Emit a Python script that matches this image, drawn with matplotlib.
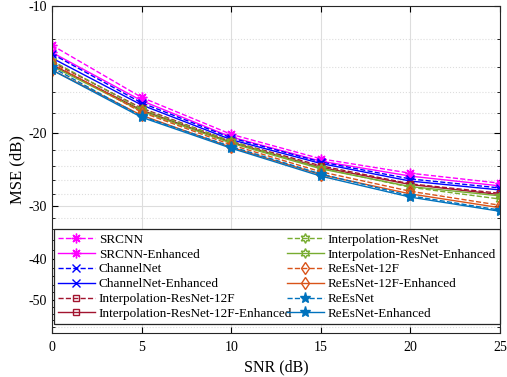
import matplotlib
matplotlib.use("Agg")
import matplotlib.pyplot as plt
import numpy as np
from matplotlib.ticker import FixedLocator, FixedFormatter

plt.rcParams['font.family'] = ['Liberation Serif', 'DejaVu Serif']
plt.rcParams['axes.unicode_minus'] = False

snr = [0, 5, 10, 15, 20, 25]

# MSE values (dB)
srcnn = [-12.4, -16.5, -20.2, -23.1, -25.0, -26.4]
srcnn_enh = [-12.9, -16.8, -20.5, -23.4, -25.4, -26.8]
channelnet = [-13.0, -17.0, -20.6, -23.5, -25.8, -27.1]
channelnet_enh = [-13.3, -17.2, -20.8, -23.7, -26.1, -27.4]
interp12f = [-13.6, -17.5, -21.0, -24.0, -26.5, -27.9]
interp12f_enh = [-13.8, -17.7, -21.1, -24.2, -26.6, -28.1]
interp = [-13.5, -17.6, -21.0, -24.3, -27.0, -28.8]
interp_enh = [-13.9, -17.8, -21.2, -24.4, -26.9, -28.3]
reesnet12f = [-13.7, -17.9, -21.4, -24.8, -27.6, -29.8]
reesnet12f_enh = [-14.2, -18.2, -21.7, -25.2, -28.0, -30.2]
reesnet = [-14.0, -18.3, -21.6, -25.1, -28.3, -30.6]
reesnet_enh = [-14.2, -18.4, -21.8, -25.4, -28.5, -30.8]

labels_left = ['SRCNN', 'SRCNN-Enhanced', 'ChannelNet', 'ChannelNet-Enhanced',
               'Interpolation-ResNet-12F', 'Interpolation-ResNet-12F-Enhanced']
labels_right = ['Interpolation-ResNet', 'Interpolation-ResNet-Enhanced',
                'ReEsNet-12F', 'ReEsNet-12F-Enhanced', 'ReEsNet', 'ReEsNet-Enhanced']

series = [srcnn, srcnn_enh, channelnet, channelnet_enh, interp12f, interp12f_enh,
          interp, interp_enh, reesnet12f, reesnet12f_enh, reesnet, reesnet_enh]
labels = labels_left + labels_right
colors = ['#FF00FF', '#FF00FF', '#0000FF', '#0000FF', '#A2142F', '#A2142F',
          '#77AC30', '#77AC30', '#D95319', '#D95319', '#0072BD', '#0072BD']
asterisk = (8, 2, 0)
hexagram = (6, 1, 0)
markers = [asterisk, asterisk, 'x', 'x', 's', 's', hexagram, hexagram,
           'd', 'd', '*', '*']
sizes = [7, 7, 5.5, 5.5, 5, 5, 7, 7, 6, 6, 8, 8]

fig = plt.figure(figsize=(5.07, 3.77), dpi=100)
ax = fig.add_axes([52/507, 44/377, 448/507, 327/377])

# MSE axis in the picture is log-spaced on |MSE|
ax.set_yscale('function', functions=(lambda y: -np.log10(np.abs(y)),
                                     lambda v: -10.0**(-v)))

for i, (vals, lab) in enumerate(zip(series, labels)):
    ls = '--' if i % 2 == 0 else '-'
    m = markers[i]
    filled = (m == '*')
    ax.plot(snr, vals, linestyle=ls, color=colors[i], marker=m,
            markersize=sizes[i], linewidth=1.0,
            markerfacecolor=colors[i] if filled else 'none',
            markeredgecolor=colors[i], markeredgewidth=1.0, label=lab)

ax.set_xlim(0, 25)
ax.set_ylim(-60, -10)
ax.set_xticks(snr)
major = [-50, -40, -30, -20, -10]
minor = [v for v in range(-58, -10, 2) if v not in major]
ax.yaxis.set_major_locator(FixedLocator(major))
ax.yaxis.set_major_formatter(FixedFormatter(['-50', '-40', '-30', '-20', '-10']))
ax.yaxis.set_minor_locator(FixedLocator(minor))
ax.tick_params(which='both', direction='in', top=True, right=True, labelsize=10)
ax.tick_params(which='major', length=4)
ax.tick_params(axis='x', pad=6)
ax.tick_params(which='minor', length=2.5)
ax.grid(True, which='major', color='#dddddd', linewidth=0.8)
ax.grid(True, which='minor', axis='y', color='#dddddd', linestyle=':', linewidth=0.8)
ax.set_axisbelow(True)
for s in ax.spines.values():
    s.set_color('#262626')

ax.set_xlabel('SNR (dB)', fontsize=11.5, labelpad=4)
ax.set_ylabel('MSE (dB)', fontsize=12, labelpad=2)

h, l = ax.get_legend_handles_labels()
leg = ax.legend(h, l, ncol=2, loc='lower left', mode='expand',
                bbox_to_anchor=(0.0045, 0.0275, 0.9955, 0.2875),
                fontsize=9.5, handlelength=2.8, handletextpad=0.3,
                labelspacing=0.2, borderpad=0.3, columnspacing=0.5,
                fancybox=False, framealpha=1, edgecolor='#262626',
                borderaxespad=0)
leg.get_frame().set_linewidth(0.9)

fig.savefig('out.png', dpi=100)
